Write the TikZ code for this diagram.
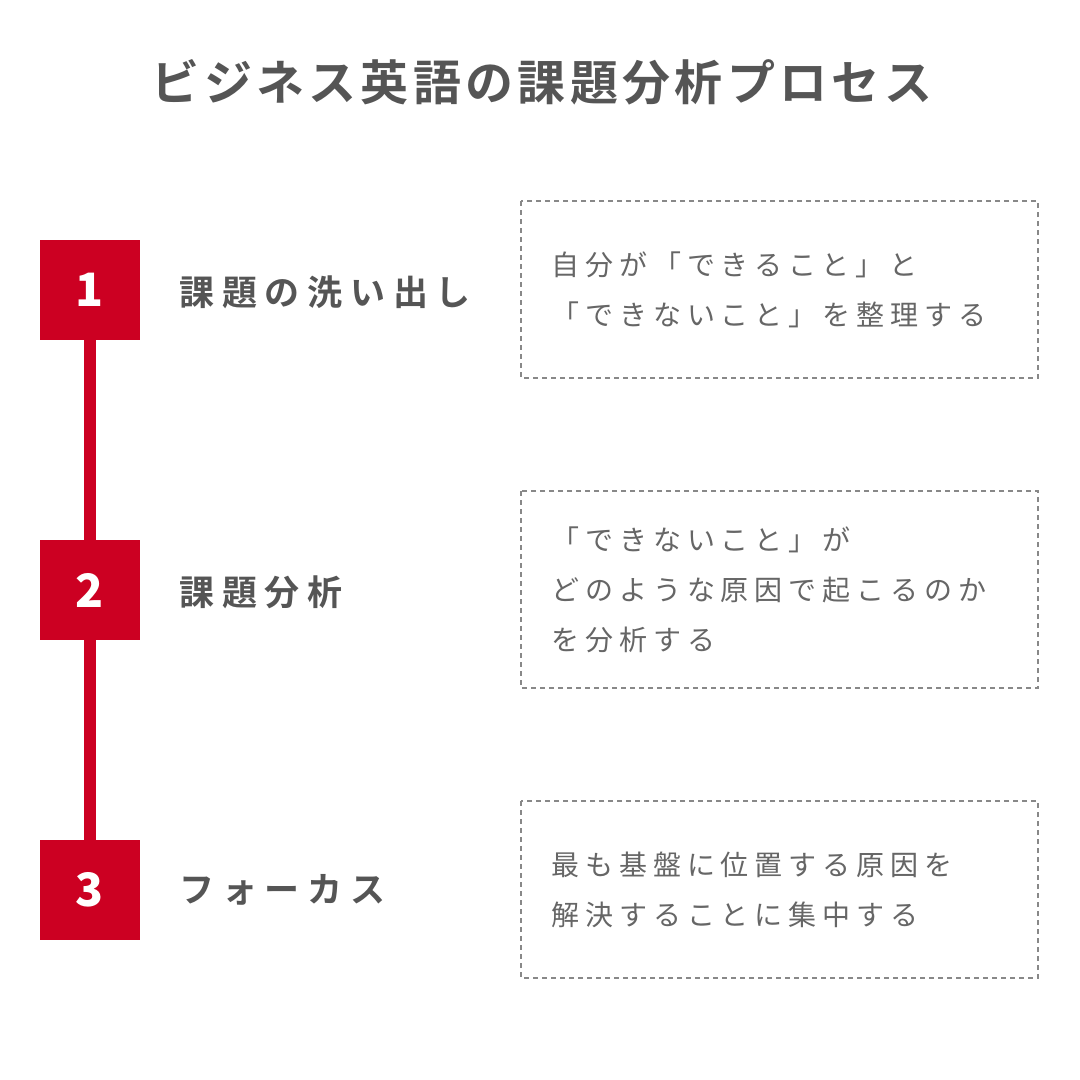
\documentclass[tikz,border=0pt]{standalone}
\usepackage{fontspec}
\newfontfamily\jp[LetterSpace=21]{Noto Sans CJK JP}
\newfontfamily\jpl[LetterSpace=22]{Noto Sans CJK JP Bold}
\newfontfamily\jpt[LetterSpace=9]{Noto Sans CJK JP Bold}
\newfontfamily\jpb{Noto Sans CJK JP Black}
\begin{document}
\begin{tikzpicture}[x=1pt,y=-1pt,
  red/.style={fill={rgb,255:red,204;green,0;blue,34},draw=none},
  num/.style={red,minimum size=100pt,inner sep=0,text=white,font=\jpb\fontsize{46}{46}\selectfont},
  lab/.style={anchor=west,text={rgb,255:red,85;green,85;blue,85},font=\jpl\fontsize{35}{40}\selectfont},
  box/.style={draw={rgb,255:red,136;green,136;blue,136},dash pattern=on 5pt off 4pt,line width=2pt},
  txt/.style={anchor=west,align=left,text={rgb,255:red,102;green,102;blue,102},font=\jp\fontsize{28}{50}\selectfont}]
\useasboundingbox[fill=white](0,0) rectangle (1080,1080);
\node[text={rgb,255:red,85;green,85;blue,85},font=\jpt\fontsize{48}{48}\selectfont] (t) at (542,82) {ビジネス英語の課題分析プロセス};
\draw[line width=12pt,draw={rgb,255:red,204;green,0;blue,34}] (90,340) -- (90,840);
\node[num] (n1) at (90,290) {1};
\node[num] (n2) at (90,590) {2};
\node[num] (n3) at (90,890) {3};
\node[lab] (l1) at (176,292) {課題の洗い出し};
\node[lab] (l2) at (176,592) {課題分析};
\node[lab] (l3) at (176,890) {フォーカス};
\draw[box] (521,201) rectangle (1038,378);
\draw[box] (521,491) rectangle (1038,688);
\draw[box] (521,801) rectangle (1038,978);
\node[txt] (b1) at (548,290) {自分が「できること」と\\「できないこと」を整理する};
\node[txt] (b2) at (548,590) {「できないこと」が\\どのような原因で起こるのか\\を分析する};
\node[txt] (b3) at (548,890) {最も基盤に位置する原因を\\解決することに集中する};
\end{tikzpicture}
\end{document}
